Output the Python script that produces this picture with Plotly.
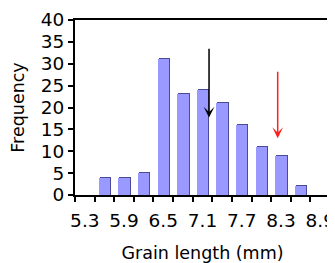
import plotly.graph_objects as go

# Data (bin centres, mm) and frequencies
bin_centers = [5.3, 5.6, 5.9, 6.2, 6.5, 6.8, 7.1, 7.4, 7.7, 8.0, 8.3, 8.6, 8.9]
frequency = [0, 4, 4, 5, 31, 23, 24, 21, 16, 11, 9, 2, 0]
tick_labels = ["5.3", "5.9", "6.5", "7.1", "7.7", "8.3", "8.9"]
bin_width = 0.3

# Arrows: (x, tail frequency, tip frequency, colour)
arrow_x = [7.2, 8.25]
arrow_tail = [33.8, 28.5]
arrow_tip = [17.7, 13.0]
arrow_color = ["black", "#ff2020"]

FONT = "DejaVu Sans"
bar_w = 0.175
px_x = 3.9 / 255.0   # data units per pixel (x)
px_y = 40 / 174.5    # data units per pixel (y)

edges = [round(c - bin_width / 2, 3) for c in bin_centers] + [round(bin_centers[-1] + bin_width / 2, 3)]

fig = go.Figure()
# subtle dark shadow (top/right edge) behind the bars
fig.add_trace(go.Bar(
    x=bin_centers, y=[v + px_y if v > 0 else 0 for v in frequency],
    width=bar_w, offset=-bar_w / 2 + px_x,
    marker=dict(color="#4a4a99", line=dict(width=0)),
    hoverinfo="skip", showlegend=False,
))
fig.add_trace(go.Bar(
    x=bin_centers, y=frequency,
    width=bar_w, offset=-bar_w / 2,
    marker=dict(color="#9999ff", line=dict(width=0)),
    showlegend=False,
))

for xa, t0, t1, col in zip(arrow_x, arrow_tail, arrow_tip, arrow_color):
    fig.add_annotation(
        x=xa, y=t1, ax=xa, ay=t0, xref="x", yref="y", axref="x", ayref="y",
        text="", showarrow=True, arrowhead=3, arrowsize=1.2, arrowwidth=1.5,
        arrowcolor=col,
    )

# the page body has an 8px margin, so the figure is sized to fill the rest
fig.update_layout(
    width=327, height=255,
    margin=dict(l=67, r=5, t=12, b=68, autoexpand=False),
    paper_bgcolor="white", plot_bgcolor="white",
    barmode="overlay", bargap=0,
    font=dict(family=FONT, size=17, color="black"),
    showlegend=False,
)

fig.update_xaxes(
    range=[edges[0], edges[-1]],
    tickmode="array",
    tickvals=bin_centers[::2], ticktext=tick_labels,
    ticks="", ticklen=0, ticklabelstandoff=8,
    minor=dict(tickmode="array", tickvals=edges, ticks="outside", ticklen=5,
               tickwidth=2, tickcolor="black", showgrid=False),
    showline=True, linewidth=2, linecolor="black", mirror=True,
    showgrid=False, zeroline=False, automargin=False,
    tickfont=dict(family=FONT, size=18.5),
    title=dict(text="Grain length (mm)", font=dict(family=FONT, size=17.5), standoff=23),
)
fig.update_yaxes(
    range=[0, 40], tickmode="linear", tick0=0, dtick=5,
    ticks="outside", ticklen=5, tickwidth=2, tickcolor="black",
    showline=True, linewidth=2, linecolor="black", mirror=True,
    showgrid=False, zeroline=False, automargin=False,
    tickfont=dict(family=FONT, size=18.5),
    title=dict(text="Frequency", font=dict(family=FONT, size=17.5), standoff=13),
)

fig.write_html("out.html")
